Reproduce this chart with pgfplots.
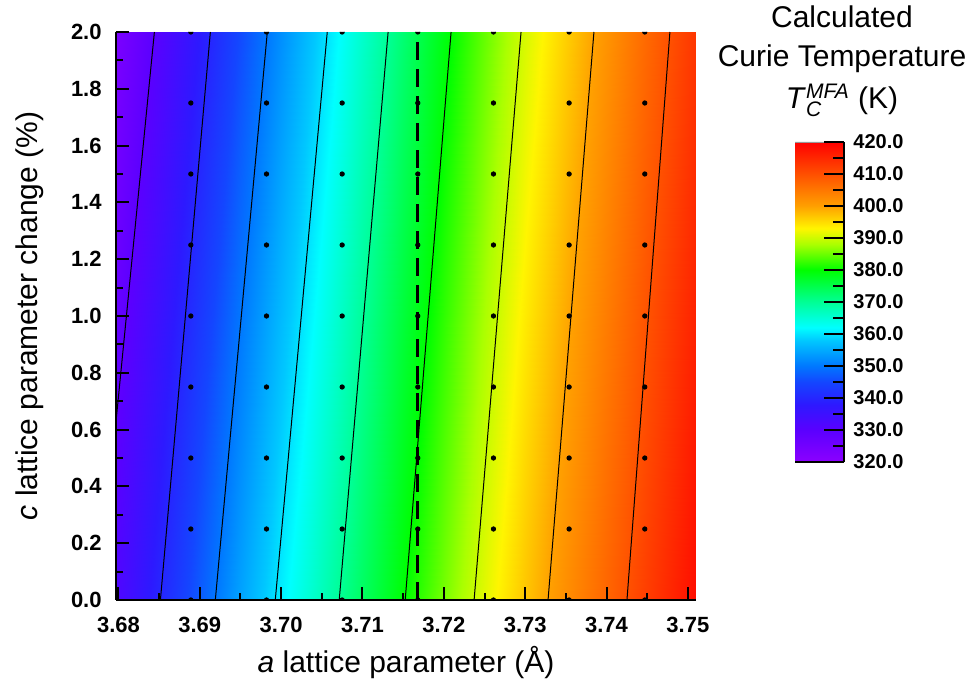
\documentclass[border=0pt]{standalone}
\usepackage{fontspec}
\setmainfont{Liberation Sans}
\usepackage{pgfplots}
\pgfplotsset{compat=1.18}

\pgfplotsset{
  colormap={origin}{
    rgb255(0pt)=(140,0,255)
    rgb255(10pt)=(90,0,255)
    rgb255(18pt)=(45,25,255)
    rgb255(25pt)=(20,70,255)
    rgb255(30pt)=(0,120,255)
    rgb255(38pt)=(0,200,255)
    rgb255(42pt)=(0,255,255)
    rgb255(50pt)=(0,255,150)
    rgb255(60pt)=(0,255,0)
    rgb255(68pt)=(170,255,0)
    rgb255(73pt)=(255,245,0)
    rgb255(80pt)=(255,160,0)
    rgb255(90pt)=(255,80,0)
    rgb255(100pt)=(255,0,0)
  }
}
\newcommand{\scr}[1]{\mbox{\fontsize{10.5}{12}\selectfont\itshape #1}}

\begin{document}
\begin{tikzpicture}
\useasboundingbox (-58pt,-48pt) rectangle (429.5pt,300pt);
\begin{axis}[
  at={(0,0)}, anchor=south west,
  scale only axis, width=290pt, height=284pt,
  view={0}{90},
  xmin=3.6797, xmax=3.7510, ymin=0, ymax=2, zmin=320, zmax=420,
  axis x line=bottom, axis y line=left, axis z line=none,
  axis line style={-, line width=1.2pt},
  ztick=\empty,
  xtick={3.68,3.69,3.70,3.71,3.72,3.73,3.74,3.75},
  ytick={0,0.2,0.4,0.6,0.8,1.0,1.2,1.4,1.6,1.8,2.0},
  minor x tick num=1, minor y tick num=1,
  scaled x ticks=false,
  tick align=inside, major tick length=6.5pt, minor tick length=3.5pt,
  tick style={black, line width=1pt},
  tick label style={font=\bfseries\fontsize{11}{13}\selectfont, /pgf/number format/assume math mode=true},
  xticklabel style={/pgf/number format/fixed, /pgf/number format/precision=2, /pgf/number format/fixed zerofill, inner sep=0pt, yshift=-8.5pt},
  yticklabel style={/pgf/number format/fixed, /pgf/number format/precision=1, /pgf/number format/fixed zerofill, inner sep=0pt, xshift=-7pt},
  xlabel={\textit{a} lattice parameter (Å)},
  ylabel={\textit{c} lattice parameter change (\%)},
  label style={font=\fontsize{15}{18}\selectfont},
  xlabel style={at={(axis description cs:0.5,-0.1268)}, anchor=base},
  ylabel style={at={(axis description cs:-0.1345,0.5)}, anchor=base},
  colormap name=origin,
  point meta min=320, point meta max=420,
  clip marker paths=true,
]
% Curie temperature field, read off the contour positions
\addplot3[surf, shader=interp] table {
a c T
3.6797 0 331.9
3.685 0 339.8
3.690 0 347.2
3.695 0 354.2
3.700 0 360.9
3.705 0 367.3
3.710 0 373.5
3.715 0 379.7
3.720 0 385.6
3.725 0 391.4
3.730 0 396.9
3.735 0 402.3
3.740 0 407.4
3.745 0 412.4
3.7510 0 418.3

3.6797 1 327.6
3.685 1 335.3
3.690 1 342.7
3.695 1 349.8
3.700 1 356.6
3.705 1 363.2
3.710 1 369.7
3.715 1 376.1
3.720 1 382.2
3.725 1 388.1
3.730 1 393.8
3.735 1 399.2
3.740 1 404.5
3.745 1 409.7
3.7510 1 415.8

3.6797 2 323.3
3.685 2 330.8
3.690 2 338.1
3.695 2 345.3
3.700 2 352.3
3.705 2 359.1
3.710 2 365.8
3.715 2 372.4
3.720 2 378.8
3.725 2 384.8
3.730 2 390.6
3.735 2 396.1
3.740 2 401.6
3.745 2 407.0
3.7510 2 413.3
};
% contour lines, 330 ... 410 K
\addplot3[black, line width=0.5pt] coordinates {(3.67754,0,420) (3.68442,2,420)};
\addplot3[black, line width=0.5pt] coordinates {(3.68516,0,420) (3.69130,2,420)};
\addplot3[black, line width=0.5pt] coordinates {(3.69191,0,420) (3.69830,2,420)};
\addplot3[black, line width=0.5pt] coordinates {(3.69928,0,420) (3.70567,2,420)};
\addplot3[black, line width=0.5pt] coordinates {(3.70714,0,420) (3.71315,2,420)};
\addplot3[black, line width=0.5pt] coordinates {(3.71525,0,420) (3.72089,2,420)};
\addplot3[black, line width=0.5pt] coordinates {(3.72372,0,420) (3.72949,2,420)};
\addplot3[black, line width=0.5pt] coordinates {(3.73281,0,420) (3.73845,2,420)};
\addplot3[black, line width=0.5pt] coordinates {(3.74251,0,420) (3.74779,2,420)};
% calculated points
\addplot3[only marks, mark=*, mark size=1.1pt, black] table {
a c z
3.6889 0 420
3.6889 0.25 420
3.6889 0.5 420
3.6889 0.75 420
3.6889 1.0 420
3.6889 1.25 420
3.6889 1.5 420
3.6889 1.75 420
3.6889 2.0 420
3.6982 0 420
3.6982 0.25 420
3.6982 0.5 420
3.6982 0.75 420
3.6982 1.0 420
3.6982 1.25 420
3.6982 1.5 420
3.6982 1.75 420
3.6982 2.0 420
3.7075 0 420
3.7075 0.25 420
3.7075 0.5 420
3.7075 0.75 420
3.7075 1.0 420
3.7075 1.25 420
3.7075 1.5 420
3.7075 1.75 420
3.7075 2.0 420
3.7168 0 420
3.7168 0.25 420
3.7168 0.5 420
3.7168 0.75 420
3.7168 1.0 420
3.7168 1.25 420
3.7168 1.5 420
3.7168 1.75 420
3.7168 2.0 420
3.7261 0 420
3.7261 0.25 420
3.7261 0.5 420
3.7261 0.75 420
3.7261 1.0 420
3.7261 1.25 420
3.7261 1.5 420
3.7261 1.75 420
3.7261 2.0 420
3.7354 0 420
3.7354 0.25 420
3.7354 0.5 420
3.7354 0.75 420
3.7354 1.0 420
3.7354 1.25 420
3.7354 1.5 420
3.7354 1.75 420
3.7354 2.0 420
3.7447 0 420
3.7447 0.25 420
3.7447 0.5 420
3.7447 0.75 420
3.7447 1.0 420
3.7447 1.25 420
3.7447 1.5 420
3.7447 1.75 420
3.7447 2.0 420
};
% experimental a
\addplot3[black, line width=1.5pt, dash pattern=on 9pt off 4.5pt] coordinates {(3.7168,0,420) (3.7168,2,420)};
\end{axis}

% colour scale
\begin{axis}[
  at={(339.5pt,69pt)}, anchor=south west,
  scale only axis, width=24.5pt, height=160pt,
  view={0}{90},
  xmin=0, xmax=1, ymin=320, ymax=420, zmin=320, zmax=420,
  axis x line=bottom, axis y line=right, axis z line=none,
  axis line style={-, line width=1.2pt},
  xtick=\empty, ztick=\empty,
  ytick={320,330,340,350,360,370,380,390,400,410,420}, minor y tick num=1,
  tick align=inside, major tick length=10pt, minor tick length=5.5pt,
  tick style={black, line width=1pt},
  yticklabel style={font=\bfseries\fontsize{10}{12}\selectfont, /pgf/number format/fixed, /pgf/number format/precision=1, /pgf/number format/fixed zerofill, /pgf/number format/assume math mode=true, inner sep=0pt, xshift=4.5pt},
  colormap name=origin,
  point meta min=320, point meta max=420,
]
\addplot3[surf, shader=interp] table {
x y z
0 320 320
1 320 320

0 330 330
1 330 330

0 340 340
1 340 340

0 350 350
1 350 350

0 360 360
1 360 360

0 370 370
1 370 370

0 380 380
1 380 380

0 390 390
1 390 390

0 400 400
1 400 400

0 410 410
1 410 410

0 420 420
1 420 420
};
\addplot3[black!40, line width=1.2pt] coordinates {(0,420,420) (1,420,420)};
\end{axis}

\node[anchor=base, font=\fontsize{15}{18}\selectfont] at (363pt,286pt) {Calculated};
\node[anchor=base, font=\fontsize{15}{18}\selectfont] at (363pt,266.5pt) {Curie Temperature};
\node[anchor=base, font=\fontsize{15}{18}\selectfont] at (363pt,245.5pt) {\textit{T}$_{\scr{C}}^{\scr{MFA}}$ (K)};
\end{tikzpicture}
\end{document}
